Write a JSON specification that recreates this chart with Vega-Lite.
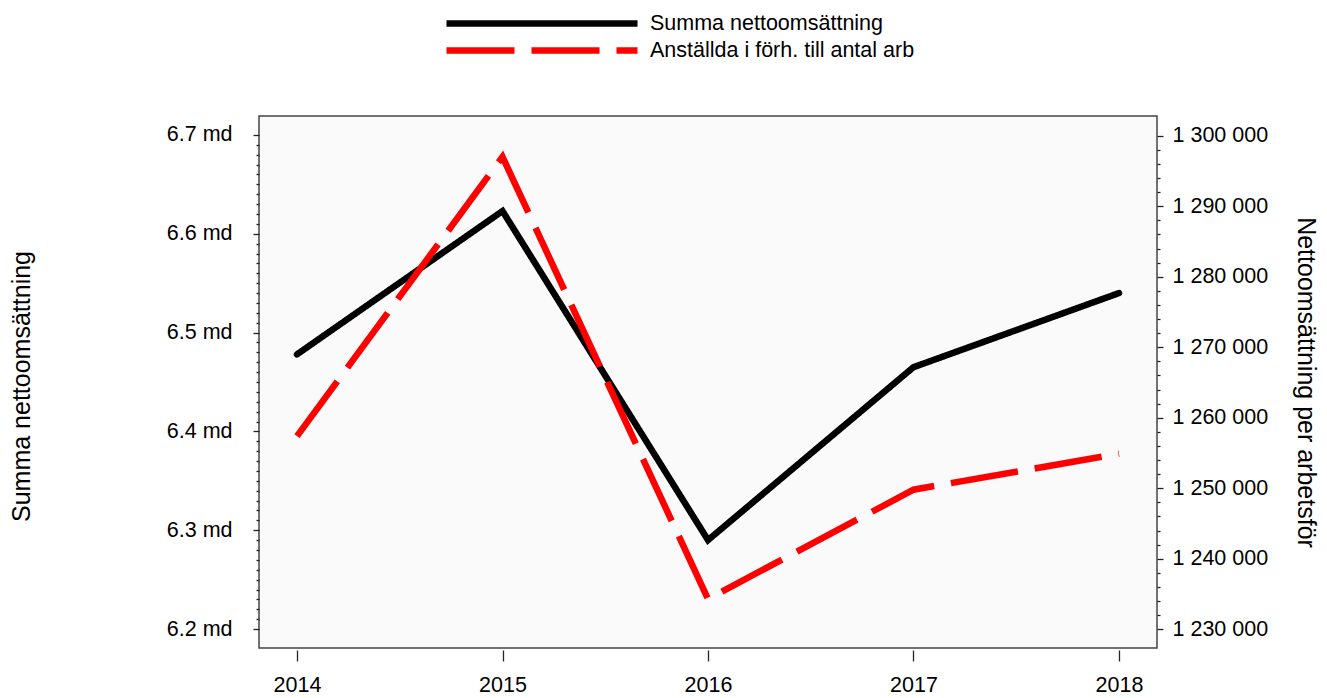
{
  "$schema": "https://vega.github.io/schema/vega-lite/v6.json",
  "width": 898,
  "height": 532,
  "autosize": "none",
  "padding": {"left": 259, "top": 116, "right": 170, "bottom": 50},
  "background": "white",
  "data": {
    "values": [
      {"year": 2014, "series": "Summa nettoomsättning", "value": 6478000000},
      {"year": 2015, "series": "Summa nettoomsättning", "value": 6623000000},
      {"year": 2016, "series": "Summa nettoomsättning", "value": 6290000000},
      {"year": 2017, "series": "Summa nettoomsättning", "value": 6465000000},
      {"year": 2018, "series": "Summa nettoomsättning", "value": 6540000000},
      {"year": 2014, "series": "Anställda i förh. till antal arb", "value": 1257400},
      {"year": 2015, "series": "Anställda i förh. till antal arb", "value": 1297000},
      {"year": 2016, "series": "Anställda i förh. till antal arb", "value": 1234300},
      {"year": 2017, "series": "Anställda i förh. till antal arb", "value": 1249800},
      {"year": 2018, "series": "Anställda i förh. till antal arb", "value": 1254900}
    ]
  },
  "encoding": {
    "x": {
      "field": "year",
      "type": "quantitative",
      "scale": {"domain": [2013.815, 2018.185], "nice": false, "zero": false},
      "axis": {
        "title": null,
        "values": [2014, 2015, 2016, 2017, 2018],
        "format": "d",
        "domain": false,
        "grid": false,
        "offset": 2,
        "tickSize": 11,
        "tickWidth": 1.3,
        "tickColor": "#222",
        "labelPadding": 13,
        "labelFlush": false,
        "labelOverlap": false,
        "labelFont": "Liberation Sans",
        "labelFontSize": 21.5,
        "labelColor": "black"
      }
    },
    "color": {
      "field": "series",
      "type": "nominal",
      "scale": {"domain": ["Summa nettoomsättning", "Anställda i förh. till antal arb"], "range": ["#000000", "#ff0000"]},
      "legend": {
        "title": null,
        "orient": "none",
        "legendX": 184,
        "legendY": -106,
        "symbolType": "stroke",
        "symbolSize": 36481,
        "symbolStrokeWidth": 6.5,
        "clipHeight": 27,
        "rowPadding": 0,
        "labelOffset": 9,
        "labelFont": "Liberation Sans",
        "labelFontSize": 21.5,
        "labelColor": "black",
        "labelLimit": 0,
        "padding": 0
      }
    },
    "strokeDash": {
      "field": "series",
      "type": "nominal",
      "scale": {"domain": ["Summa nettoomsättning", "Anställda i förh. till antal arb"], "range": [[1, 0], [68, 17]]},
      "legend": {
        "title": null,
        "orient": "none",
        "legendX": 184,
        "legendY": -106,
        "symbolType": "stroke",
        "symbolSize": 36481,
        "symbolStrokeWidth": 6.5,
        "clipHeight": 27,
        "rowPadding": 0,
        "labelOffset": 9,
        "labelFont": "Liberation Sans",
        "labelFontSize": 21.5,
        "labelColor": "black",
        "labelLimit": 0,
        "padding": 0
      }
    }
  },
  "layer": [
    {
      "transform": [{"filter": "datum.series == 'Summa nettoomsättning'"}],
      "mark": {"type": "line", "strokeWidth": 6.5, "strokeCap": "round"},
      "encoding": {
        "y": {
          "field": "value",
          "type": "quantitative",
          "scale": {"domain": [6180800000, 6719200000], "nice": false, "zero": false},
          "axis": {
            "orient": "left",
            "title": "Summa nettoomsättning",
            "titleFont": "Liberation Sans",
            "titleFontSize": 25,
            "titleFontWeight": "normal",
            "titleColor": "black",
            "titleAngle": 270,
            "titleX": -238,
            "titleY": 270,
            "titleAlign": "center",
            "titleBaseline": "middle",
            "values": [6200000000, 6210000000, 6220000000, 6230000000, 6240000000, 6250000000, 6260000000, 6270000000, 6280000000, 6290000000, 6300000000, 6310000000, 6320000000, 6330000000, 6340000000, 6350000000, 6360000000, 6370000000, 6380000000, 6390000000, 6400000000, 6410000000, 6420000000, 6430000000, 6440000000, 6450000000, 6460000000, 6470000000, 6480000000, 6490000000, 6500000000, 6510000000, 6520000000, 6530000000, 6540000000, 6550000000, 6560000000, 6570000000, 6580000000, 6590000000, 6600000000, 6610000000, 6620000000, 6630000000, 6640000000, 6650000000, 6660000000, 6670000000, 6680000000, 6690000000, 6700000000],
            "labelExpr": "abs(datum.value/1e8 - round(datum.value/1e8)) < 0.01 ? format(datum.value/1e9, '.1f') + ' md' : ''",
            "domain": false,
            "grid": false,
            "tickSize": {"condition": {"test": "abs(datum.value/1e8 - round(datum.value/1e8)) < 0.01", "value": 6}, "value": 3},
            "tickWidth": 1.3,
            "tickColor": "#222",
            "labelPadding": 21,
            "labelOverlap": false,
            "labelFont": "Liberation Sans",
            "labelFontSize": 21.5,
            "labelColor": "black"
          }
        }
      }
    },
    {
      "transform": [{"filter": "datum.series == 'Anställda i förh. till antal arb'"}],
      "mark": {"type": "line", "strokeWidth": 6.5, "strokeCap": "butt"},
      "encoding": {
        "y": {
          "field": "value",
          "type": "quantitative",
          "scale": {"domain": [1227348, 1302794], "nice": false, "zero": false},
          "axis": {
            "orient": "right",
            "title": "Nettoomsättning per arbetsför",
            "titleFont": "Liberation Sans",
            "titleFontSize": 25,
            "titleFontWeight": "normal",
            "titleColor": "black",
            "titleAngle": 90,
            "titleX": 148,
            "titleY": 266,
            "titleAlign": "center",
            "titleBaseline": "middle",
            "values": [1230000, 1232000, 1234000, 1236000, 1238000, 1240000, 1242000, 1244000, 1246000, 1248000, 1250000, 1252000, 1254000, 1256000, 1258000, 1260000, 1262000, 1264000, 1266000, 1268000, 1270000, 1272000, 1274000, 1276000, 1278000, 1280000, 1282000, 1284000, 1286000, 1288000, 1290000, 1292000, 1294000, 1296000, 1298000, 1300000],
            "labelExpr": "datum.value % 10000 == 0 ? replace(replace(format(datum.value, ','), ',', ' '), ',', ' ') : ''",
            "domain": false,
            "grid": false,
            "tickSize": {"condition": {"test": "datum.value % 10000 == 0", "value": 6}, "value": 3},
            "tickWidth": 1.3,
            "tickColor": "#222",
            "labelPadding": 9,
            "labelOverlap": false,
            "labelFont": "Liberation Sans",
            "labelFontSize": 21.5,
            "labelColor": "black"
          }
        }
      }
    }
  ],
  "resolve": {"scale": {"y": "independent"}, "axis": {"y": "independent"}},
  "config": {
    "view": {"stroke": "#444444", "strokeWidth": 1.5, "fill": "#fafafa"},
    "font": "Liberation Sans"
  }
}
